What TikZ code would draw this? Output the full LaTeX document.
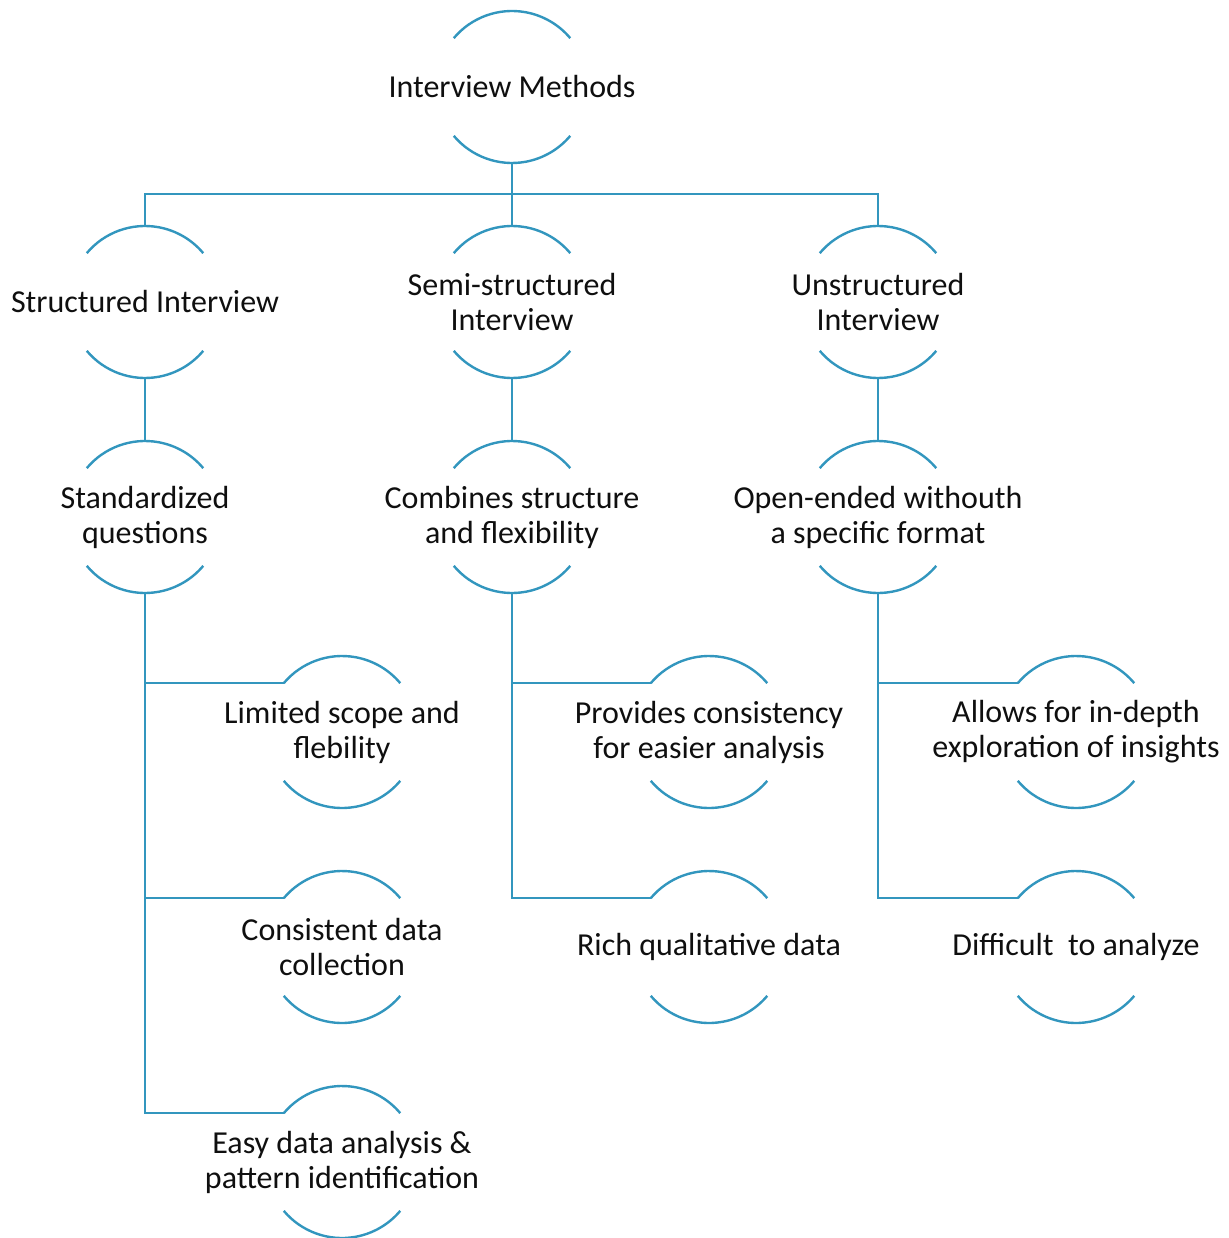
\documentclass[tikz,border=0pt]{standalone}
\usepackage{fontspec}
\setmainfont{Carlito}
\definecolor{linkblue}{RGB}{50,150,190}
\definecolor{inkgray}{RGB}{15,15,15}
\tikzset{
  ring/.style={circle, minimum size=152pt, inner sep=0pt, outer sep=0pt},
  lbl/.style={font=\fontsize{32}{35}\selectfont, text=inkgray, align=center, inner sep=0pt},
  arcline/.style={draw=linkblue, line width=2.4pt},
  link/.style={draw=linkblue, line width=2.4pt}
}
% a topic: invisible circle, centred text, and the upper and lower arcs of the circle
\newcommand{\ringnode}[3]{%
  \node[ring] (#1) at (#2) {};
  \node[lbl] (#1-t) at (#1.center) {#3};
  \draw[arcline] (#1.140) arc[start angle=140, end angle=40, radius=76pt];
  \draw[arcline] (#1.220) arc[start angle=220, end angle=320, radius=76pt];
}
\begin{document}
\begin{tikzpicture}[x=1pt, y=1pt]
\useasboundingbox (0,0) rectangle (1228,-1238);

\ringnode{root}{512,-87}{Interview Methods}

\ringnode{c1}{145,-302}{Structured Interview}
\ringnode{c2}{512,-302}{Semi-structured\\Interview}
\ringnode{c3}{878,-302}{Unstructured\\Interview}

\ringnode{d1}{145,-517}{Standardized\\questions}
\ringnode{d2}{512,-517}{Combines structure\\and flexibility}
\ringnode{d3}{878,-517}{Open-ended withouth\\a specific format}

\ringnode{e11}{342,-732}{Limited scope and\\flebility}
\ringnode{e12}{342,-947}{Consistent data\\collection}
\ringnode{e13}{342,-1162}{Easy data analysis \&\\pattern identification}

\ringnode{e21}{709,-732}{Provides consistency\\for easier analysis}
\ringnode{e22}{709,-947}{Rich qualitative data}

\ringnode{e31}{1076,-732}{Allows for in-depth\\exploration of insights}
\ringnode{e32}{1076,-947}{Difficult\ \ to analyze}

% bus under the root
\coordinate (bus) at (512,-194);
\draw[link] (root.south) -- (c2.north);
\draw[link] (c1.north) |- (bus) -| (c3.north);

% main columns
\draw[link] (c1.south) -- (d1.north);
\draw[link] (c2.south) -- (d2.north);
\draw[link] (c3.south) -- (d3.north);

% side branches
\draw[link] (d1.south) |- (e11.140);
\draw[link] (d1.south) |- (e12.140);
\draw[link] (d1.south) |- (e13.140);
\draw[link] (d2.south) |- (e21.140);
\draw[link] (d2.south) |- (e22.140);
\draw[link] (d3.south) |- (e31.140);
\draw[link] (d3.south) |- (e32.140);
\end{tikzpicture}
\end{document}
